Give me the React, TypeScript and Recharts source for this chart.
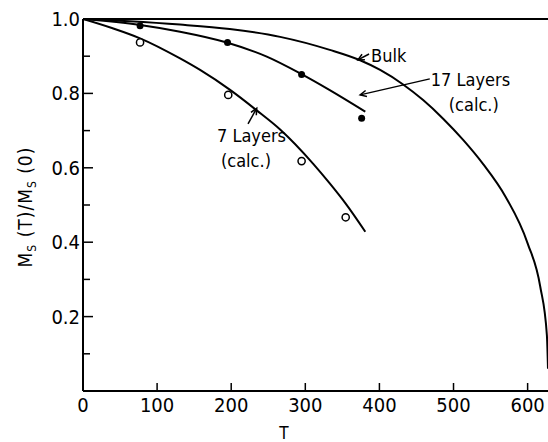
import React from "react";
import {
  ComposedChart,
  Line,
  Scatter,
  XAxis,
  YAxis,
  ReferenceLine,
  ReferenceDot,
} from "recharts";

const FONT = "'Liberation Sans Narrow', 'DejaVu Sans Condensed', 'DejaVu Sans', sans-serif";

// bulk curve
const bulkT = [0, 63, 131, 198, 266, 333, 374, 401, 432, 459, 486, 513, 540, 570, 600, 617, 626, 627.5];
const bulkM = [1, 0.994, 0.985, 0.973, 0.952, 0.917, 0.889, 0.863, 0.824, 0.782, 0.732, 0.675, 0.61, 0.523, 0.397, 0.281, 0.15, 0.06];

// 17 layers (calc.)
const calc17T = [0, 77, 131, 194, 248, 293, 333, 381];
const calc17M = [1, 0.984, 0.966, 0.937, 0.899, 0.854, 0.809, 0.751];

// 7 layers (calc.)
const calc7T = [0, 40, 77, 131, 158, 198, 234, 266, 311, 333, 354, 381];
const calc7M = [1, 0.975, 0.948, 0.894, 0.863, 0.81, 0.755, 0.703, 0.61, 0.558, 0.505, 0.428];

// measured points
const meas17T = [77, 195, 295, 376];
const meas17M = [0.982, 0.937, 0.851, 0.733];
const meas7T = [77, 196, 295, 354.5];
const meas7M = [0.937, 0.796, 0.618, 0.467];

const xTicks = [0, 100, 200, 300, 400, 500, 600];
const yTicks = [0.1, 0.2, 0.3, 0.4, 0.5, 0.6, 0.7, 0.8, 0.9, 1.0];

const zip = (ts: number[], ms: number[]) => ts.map((T, i) => ({ T, M: ms[i] }));

const bulk = zip(bulkT, bulkM);
const calc17 = zip(calc17T, calc17M);
const calc7 = zip(calc7T, calc7M);
const meas17 = zip(meas17T, meas17M);
const meas7 = zip(meas7T, meas7M);

const YTick = (p: any) => {
  const v = p.payload.value;
  const major = Math.round(v * 10) % 2 === 0;
  return (
    <g>
      <line x1={p.x} x2={p.x + (major ? 10 : 7)} y1={p.y} y2={p.y} stroke="#000" strokeWidth={1.5} />
      {major && (
        <text x={p.x - 3} y={p.y} textAnchor="end" dominantBaseline="central" fontFamily={FONT} fontSize={20} fill="#000">
          {v.toFixed(1)}
        </text>
      )}
    </g>
  );
};

const XTick = (p: any) => {
  const v = p.payload.value;
  return (
    <g>
      {v !== 0 && <line x1={p.x} x2={p.x} y1={p.y} y2={p.y - 8} stroke="#000" strokeWidth={1.5} />}
      <text x={p.x} y={p.y + 21} textAnchor="middle" fontFamily={FONT} fontSize={20} fill="#000">
        {v}
      </text>
    </g>
  );
};

const YLabel = (props: any) => {
  const vb = props.viewBox;
  const cx = vb.x + 25;
  const cy = vb.y + vb.height / 2 + 2;
  return (
    <text
      x={cx}
      y={cy}
      transform={`rotate(-90 ${cx} ${cy})`}
      textAnchor="middle"
      dominantBaseline="central"
      fontFamily={FONT}
      fontSize={19}
      letterSpacing={1}
      fill="#000"
    >
      M<tspan baselineShift="sub" fontSize={12}>S</tspan>
      <tspan> (T)/M</tspan>
      <tspan baselineShift="sub" fontSize={12}>S</tspan>
      <tspan> (0)</tspan>
    </text>
  );
};

const XLabel = (props: any) => {
  const vb = props.viewBox;
  return (
    <text x={vb.x + 201} y={vb.y + 48} textAnchor="middle" fontFamily={FONT} fontSize={17} fill="#000">
      T
    </text>
  );
};

const Arrow = (p: any) => {
  const { x1, y1, x2, y2 } = p;
  const a = Math.atan2(y2 - y1, x2 - x1);
  const len = 7;
  const w = 0.45;
  return (
    <g>
      <line x1={x1} y1={y1} x2={x2} y2={y2} stroke="#000" strokeWidth={1.5} />
      <polyline
        points={`${x2 - len * Math.cos(a - w)},${y2 - len * Math.sin(a - w)} ${x2},${y2} ${x2 - len * Math.cos(a + w)},${y2 - len * Math.sin(a + w)}`}
        fill="none"
        stroke="#000"
        strokeWidth={1.5}
      />
    </g>
  );
};

const note = (lines: string[], indent: number[]) => (p: any) => (
  <text fontFamily={FONT} fontSize={18} fill="#000" dominantBaseline="central">
    {lines.map((s, i) => (
      <tspan key={i} x={p.cx + indent[i]} y={p.cy + i * 25}>
        {s}
      </tspan>
    ))}
  </text>
);

const FilledDot = (p: any) => <circle cx={p.cx} cy={p.cy} r={3.5} fill="#000" />;
const OpenDot = (p: any) => <circle cx={p.cx} cy={p.cy} r={3.6} fill="#fff" stroke="#000" strokeWidth={1.5} />;

export default function App() {
  return (
    <div style={{ position: "absolute", left: 0, top: 0, width: 548, height: 442, background: "#fff" }}>
      <ComposedChart width={548} height={442} margin={{ top: 19, right: 0, left: 0, bottom: 0 }}>
        <XAxis
          type="number"
          dataKey="T"
          domain={[0, 627.5]}
          ticks={xTicks}
          allowDataOverflow
          height={51}
          axisLine={{ stroke: "#000", strokeWidth: 2 }}
          tickLine={false}
          tickSize={0}
          tickMargin={0}
          tick={<XTick />}
          interval={0}
          label={{ content: XLabel }}
        />
        <YAxis
          type="number"
          dataKey="M"
          domain={[0, 1]}
          ticks={yTicks}
          width={83}
          axisLine={{ stroke: "#000", strokeWidth: 2 }}
          tickLine={false}
          tickSize={0}
          tickMargin={0}
          tick={<YTick />}
          interval={0}
          label={{ content: YLabel }}
        />
        <ReferenceLine y={1} stroke="#000" strokeWidth={2} />
        <Line data={bulk} dataKey="M" type="monotone" stroke="#000" strokeWidth={2} dot={false} isAnimationActive={false} />
        <Line data={calc17} dataKey="M" type="monotone" stroke="#000" strokeWidth={2} dot={false} isAnimationActive={false} />
        <Line data={calc7} dataKey="M" type="monotone" stroke="#000" strokeWidth={2} dot={false} isAnimationActive={false} />
        <Scatter data={meas17} dataKey="M" shape={FilledDot} isAnimationActive={false} />
        <Scatter data={meas7} dataKey="M" shape={OpenDot} isAnimationActive={false} />
        <ReferenceLine segment={[{ x: 386, y: 0.906 }, { x: 371, y: 0.89 }]} shape={Arrow} />
        <ReferenceLine segment={[{ x: 468, y: 0.839 }, { x: 374, y: 0.796 }]} shape={Arrow} />
        <ReferenceLine segment={[{ x: 222.7, y: 0.718 }, { x: 234.4, y: 0.76 }]} shape={Arrow} />
        <ReferenceDot x={388.7} y={0.903} r={0} shape={note(["Bulk"], [0])} />
        <ReferenceDot x={468} y={0.839} r={0} shape={note(["17 Layers", "(calc.)"], [1, 19])} />
        <ReferenceDot x={180.8} y={0.688} r={0} shape={note(["7 Layers", "(calc.)"], [0, 4])} />
      </ComposedChart>
    </div>
  );
}
